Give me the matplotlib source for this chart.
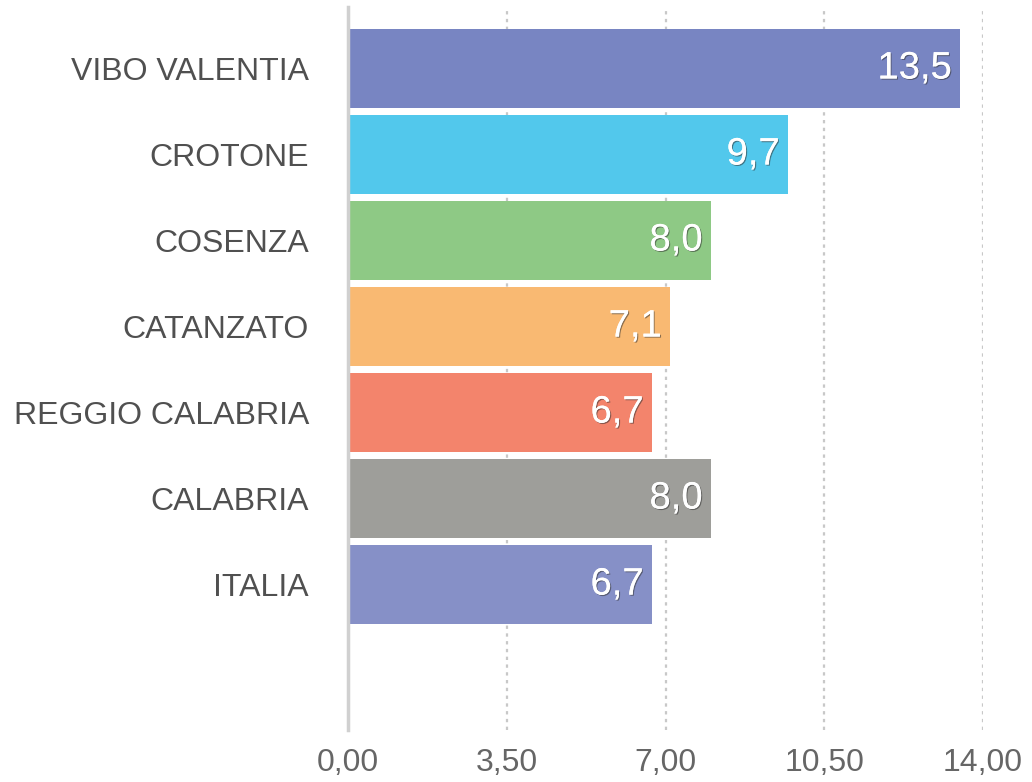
import matplotlib
matplotlib.use("Agg")
import matplotlib.pyplot as plt
import matplotlib.patheffects as pe
from matplotlib.ticker import FixedLocator

# data
categories = ["VIBO VALENTIA", "CROTONE", "COSENZA", "CATANZATO",
              "REGGIO CALABRIA", "CALABRIA", "ITALIA"]
values = [13.5, 9.7, 8.0, 7.1, 6.7, 8.0, 6.7]
value_labels = ["13,5", "9,7", "8,0", "7,1", "6,7", "8,0", "6,7"]
colors = ["#7885C2", "#52C8EC", "#8EC985", "#F9B972",
          "#F3846C", "#9E9E9A", "#8690C7"]
x_ticks = [0, 3.5, 7, 10.5, 14]
x_tick_labels = ["0,00", "3,50", "7,00", "10,50", "14,00"]

fam = ["Liberation Sans", "DejaVu Sans"]

W, H = 1032, 782
fig = plt.figure(figsize=(W / 100, H / 100), dpi=100)
ax = fig.add_axes([348 / W, 1 - 730 / H, (983 - 348) / W, (730 - 7) / H])

pos = list(range(len(categories)))
ax.barh(pos, values, height=0.91, color=colors, zorder=2)

ax.set_xlim(0, 14)
ax.set_ylim(6 + 1.69, -0.715)

# value labels inside bar ends
for p, v, lab in zip(pos, values, value_labels):
    ax.annotate(lab, (v, p), xytext=(-6, 0), textcoords="offset points",
                ha="right", va="center", fontsize=27.5, color="white",
                family=fam, zorder=4,
                path_effects=[pe.withSimplePatchShadow(offset=(0.8, -0.8),
                                                       shadow_rgbFace="#333333",
                                                       alpha=0.55),
                              pe.Normal()])

ax.set_yticks(pos)
ax.set_yticklabels(categories, fontsize=23, color="#505050", family=fam)
ax.xaxis.set_major_locator(FixedLocator(x_ticks))
ax.set_xticklabels(x_tick_labels, fontsize=23, color="#666666", family=fam)
ax.tick_params(axis="y", length=0, pad=28)
ax.tick_params(axis="x", length=0, pad=13)

for s in ["top", "right", "bottom"]:
    ax.spines[s].set_visible(False)
ax.spines["left"].set_color("#d0d0d0")
ax.spines["left"].set_linewidth(2.5)
ax.spines["left"].set_zorder(3)

ax.grid(axis="x", color="#c8c8c8", linestyle=(0, (1.5, 2)), linewidth=1.6, zorder=0)
ax.grid(axis="y", visible=False)
ax.set_axisbelow(True)

fig.savefig("out.png", dpi=100, facecolor="white")
